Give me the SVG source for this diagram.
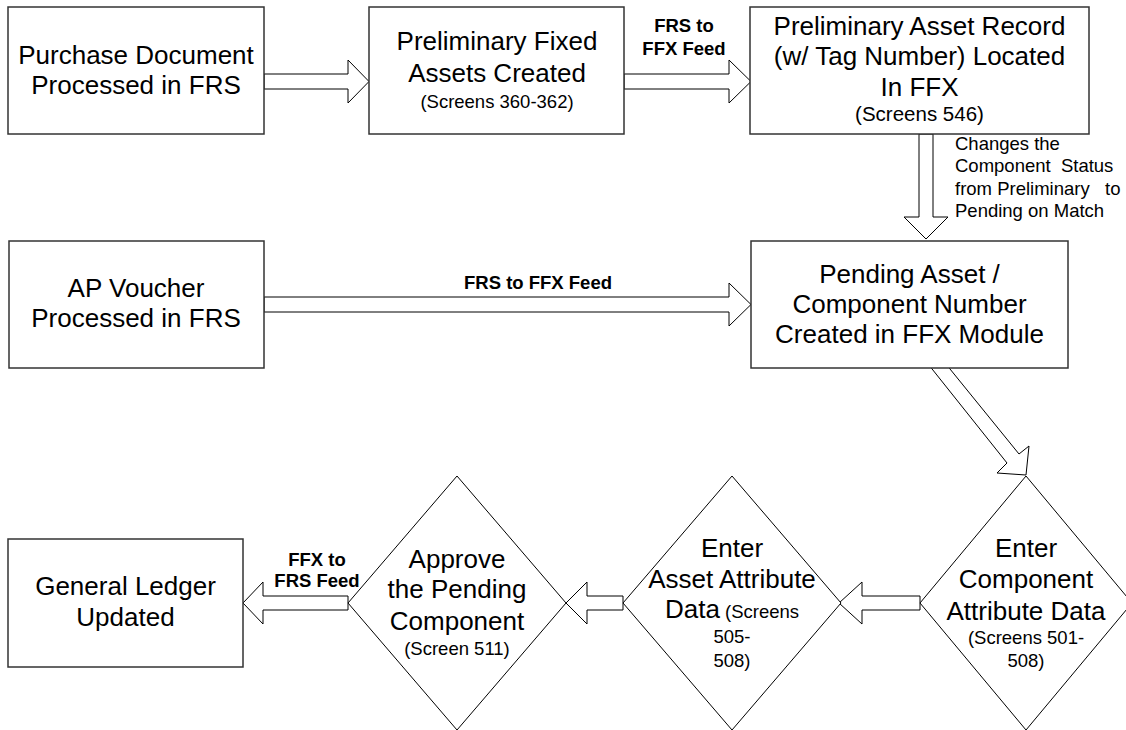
<svg xmlns="http://www.w3.org/2000/svg" width="1126" height="730" viewBox="0 0 1126 730">
<style>
.box{fill:#fff;stroke:#333;stroke-width:1.5}
.dia{fill:#fff;stroke:#000;stroke-width:1}
.arr{fill:#fff;stroke:#000;stroke-width:1}
text{font-family:"Liberation Sans",Arial,sans-serif;fill:#000}
.t{font-size:26px;text-anchor:middle}
.s{font-size:18.5px;text-anchor:middle}
.b{font-size:18.5px;font-weight:bold;text-anchor:middle}
.n{font-size:18.5px}
</style>
<rect width="1126" height="730" fill="#fff"/>
<g id="connectors">
<polygon class="arr" points="264,74 348,74 348,60 369,81.5 348,103 348,89 264,89"/>
<polygon class="arr" points="624,74 729,74 729,60 751,81.5 729,103 729,89 624,89"/>
<polygon class="arr" points="264,297 729,297 729,283 751,304.5 729,326 729,312 264,312"/>
<polygon class="arr" points="919,134 933,134 933,217 948,217 926,239 904,217 919,217"/>
<polygon class="arr" points="926.5,362 943.5,361 1019,454 1029,446 1026,475 997,473 1007,463"/>
<polygon class="arr" points="920,596 862,596 862,582 839,603 862,624 862,610 920,610"/>
<polygon class="arr" points="623,596 587,596 587,582 566,603 587,624 587,610 623,610"/>
<polygon class="arr" points="348,596 263,596 263,582 243,603 263,624 263,610 348,610"/>
<text class="b" x="684" y="32">FRS to</text>
<text class="b" x="684" y="55">FFX Feed</text>
<text class="b" x="538" y="289">FRS to FFX Feed</text>
<text class="b" x="317" y="566">FFX to</text>
<text class="b" x="317" y="587">FRS Feed</text>
<text class="n" x="955" y="150" xml:space="preserve">Changes the</text>
<text class="n" x="955" y="172" xml:space="preserve">Component  Status</text>
<text class="n" x="955" y="195" xml:space="preserve">from Preliminary   to</text>
<text class="n" x="955" y="217" xml:space="preserve">Pending on Match</text>
</g>
<g id="purchase">
<rect class="box" x="8" y="7" width="256" height="127"/>
<text class="t" x="136" y="64">Purchase Document</text>
<text class="t" x="136" y="94">Processed in FRS</text>
</g>
<g id="prelim-fixed">
<rect class="box" x="369" y="7" width="255" height="127"/>
<text class="t" x="497" y="50">Preliminary Fixed</text>
<text class="t" x="497" y="82">Assets Created</text>
<text class="s" x="497" y="108">(Screens 360-362)</text>
</g>
<g id="prelim-record">
<rect class="box" x="750" y="7" width="339" height="127"/>
<text class="t" x="919.5" y="35">Preliminary Asset Record</text>
<text class="t" x="919.5" y="65">(w/ Tag Number) Located</text>
<text class="t" x="919.5" y="96">In FFX</text>
<text class="s" x="919.5" y="121" style="font-size:20.5px">(Screens 546)</text>
</g>
<g id="ap-voucher">
<rect class="box" x="9" y="241" width="255" height="127"/>
<text class="t" x="136" y="297">AP Voucher</text>
<text class="t" x="136" y="327">Processed in FRS</text>
</g>
<g id="pending">
<rect class="box" x="751" y="241" width="317" height="127"/>
<text class="t" x="909.5" y="283">Pending Asset /</text>
<text class="t" x="909.5" y="313">Component Number</text>
<text class="t" x="909.5" y="343">Created in FFX Module</text>
</g>
<g id="enter-component">
<polygon class="dia" points="1026,476 1132,603 1026,730 920,603"/>
<text class="t" x="1026" y="557">Enter</text>
<text class="t" x="1026" y="588">Component</text>
<text class="t" x="1026" y="620">Attribute Data</text>
<text class="s" x="1026" y="644">(Screens 501-</text>
<text class="s" x="1026" y="667">508)</text>
</g>
<g id="enter-asset">
<polygon class="dia" points="732,476 841,603 732,730 623,603"/>
<text class="t" x="732" y="557">Enter</text>
<text class="t" x="732" y="588">Asset Attribute</text>
<text class="t" x="732" y="618">Data<tspan style="font-size:18.5px"> (Screens</tspan></text>
<text class="s" x="732" y="643">505-</text>
<text class="s" x="732" y="667">508)</text>
</g>
<g id="approve">
<polygon class="dia" points="457,476 566,603 457,730 348,603"/>
<text class="t" x="457" y="568">Approve</text>
<text class="t" x="457" y="598">the Pending</text>
<text class="t" x="457" y="630">Component</text>
<text class="s" x="457" y="655">(Screen 511)</text>
</g>
<g id="general-ledger">
<rect class="box" x="8" y="539" width="235" height="128"/>
<text class="t" x="125.5" y="595">General Ledger</text>
<text class="t" x="125.5" y="626">Updated</text>
</g>
</svg>
